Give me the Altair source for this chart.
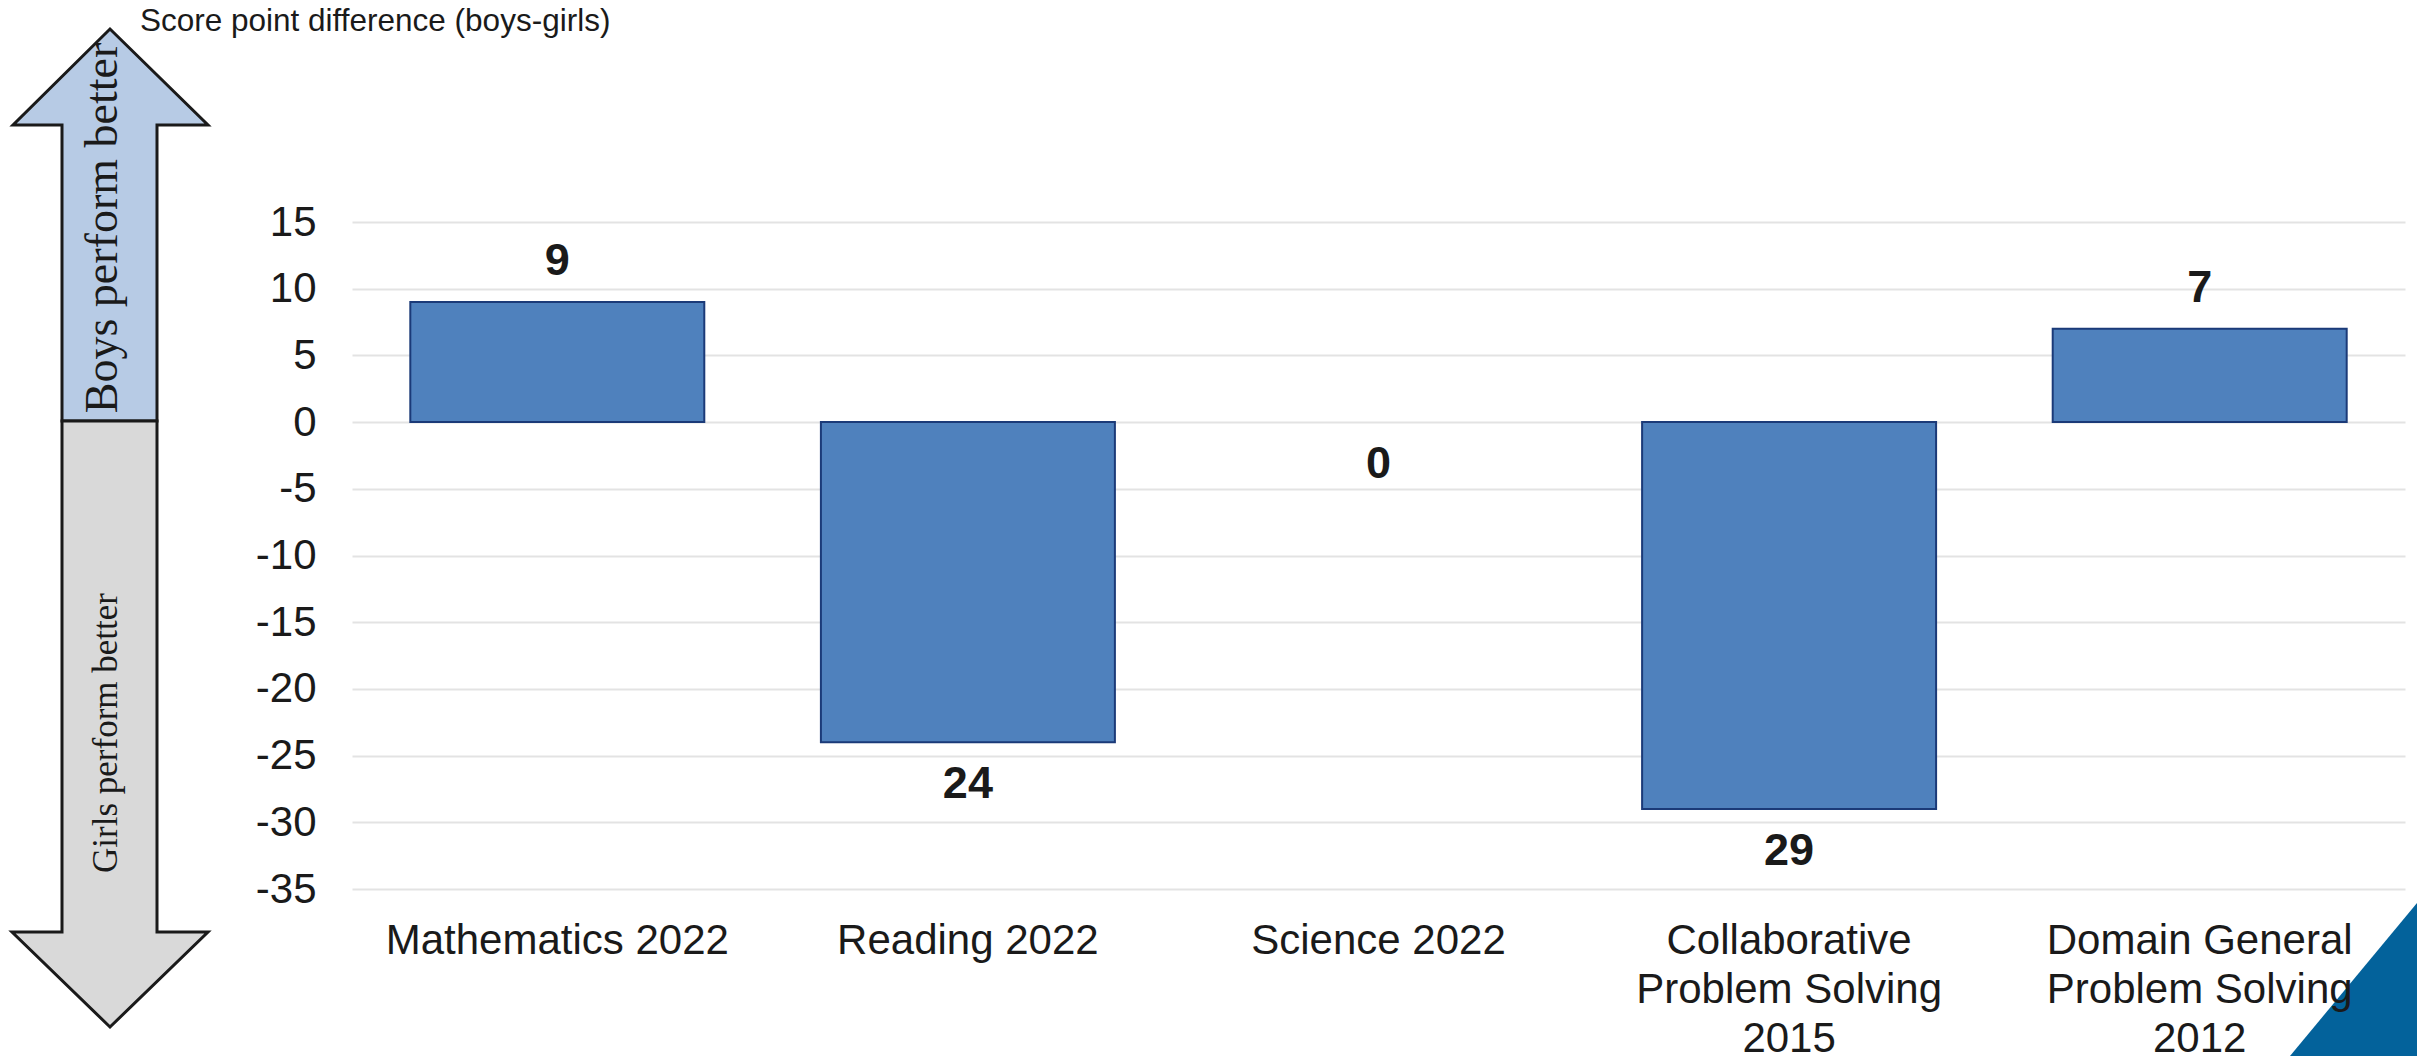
import altair as alt
import pandas as pd

# Gender gap in scores, by assessment (boys minus girls)
subjects = [
    "Mathematics 2022",
    "Reading 2022",
    "Science 2022",
    "Collaborative Problem Solving 2015",
    "Domain General Problem Solving 2012",
]
gap = [9, -24, 0, -29, 7]

y_ticks = [15, 10, 5, 0, -5, -10, -15, -20, -25, -30, -35]

axis_title = "Score point difference (boys-girls)"
boys_text = "Boys perform better"
girls_text = "Girls perform better"

df = pd.DataFrame({"subject": subjects, "gap": gap})
df["magnitude"] = df["gap"].abs()
single = pd.DataFrame({"k": [0]})

W, H = 2053, 667
SANS = "Liberation Sans"
SERIF = "Liberation Serif"
INK = "#1a1a1a"

x = alt.X(
    "subject:N",
    sort=subjects,
    title=None,
    scale=alt.Scale(paddingInner=0.284, paddingOuter=0.142),
    axis=alt.Axis(
        labelAngle=0,
        labelFont=SANS,
        labelFontSize=42,
        labelColor=INK,
        labelPadding=31,
        labelLineHeight=49,
        labelLimit=0,
        ticks=False,
        domain=False,
        grid=False,
        zindex=1,
        labelExpr="split(replace(datum.label, ' Problem Solving ', '|Problem Solving|'), '|')",
    ),
)
y = alt.Y(
    "gap:Q",
    title=None,
    scale=alt.Scale(domain=[-35, 15], nice=False, zero=False),
    axis=alt.Axis(
        values=y_ticks,
        labelExpr="'' + datum.value",
        labelFont=SANS,
        labelFontSize=42,
        labelColor=INK,
        labelPadding=36,
        ticks=False,
        domain=False,
        grid=True,
        gridColor="#e3e3e3",
        gridWidth=2,
    ),
)

base = alt.Chart(df)

bars = (
    base.transform_filter("datum.gap != 0")
    .mark_bar(color="#4f81bd", stroke="#1b3a78", strokeWidth=2)
    .encode(x=x, y=y)
)

label_style = dict(font=SANS, fontSize=45, fontWeight="bold", color=INK, baseline="middle")
labels_up = (
    base.transform_filter("datum.gap > 0")
    .mark_text(dy=-41, **label_style)
    .encode(x=x, y=y, text="magnitude:Q")
)
labels_down = (
    base.transform_filter("datum.gap <= 0")
    .mark_text(dy=42, **label_style)
    .encode(x=x, y=y, text="magnitude:Q")
)

# Direction arrows on the left, drawn as custom symbol paths (pixel units at size=4)
up_arrow_path = "M -48 0 L -48 -296 L -97 -296 L 0 -392 L 98 -296 L 47 -296 L 47 0 Z"
down_arrow_path = "M -48 0 L 47 0 L 47 511 L 98 511 L 0 606 L -98 511 L -48 511 Z"

arrow_style = dict(size=4, filled=True, opacity=1, stroke=INK, strokeWidth=3)
arrow_up = alt.Chart(single).mark_point(
    shape=up_arrow_path, fill="#b7cbe5", **arrow_style
).encode(x=alt.value(-242), y=alt.value(199))
arrow_down = alt.Chart(single).mark_point(
    shape=down_arrow_path, fill="#d9d9d9", **arrow_style
).encode(x=alt.value(-242), y=alt.value(199))

boys_label = alt.Chart(single).mark_text(
    font=SERIF, fontSize=46, color=INK, angle=270, align="center", baseline="middle"
).encode(x=alt.value(-249), y=alt.value(6), text=alt.value(boys_text))

girls_label = alt.Chart(single).mark_text(
    font=SERIF, fontSize=35, color=INK, angle=270, align="center", baseline="middle"
).encode(x=alt.value(-246), y=alt.value(511), text=alt.value(girls_text))

title = alt.Chart(single).mark_text(
    font=SANS, fontSize=31.5, color=INK, align="left", baseline="alphabetic"
).encode(x=alt.value(-212), y=alt.value(-191), text=alt.value(axis_title))

# Corner accent
corner = alt.Chart(single).mark_point(
    shape="M 0 0 L 0 -153 L -127 0 Z", size=4, filled=True, opacity=1, fill="#03629b", strokeWidth=0
).encode(x=alt.value(2065), y=alt.value(834))

chart = (
    alt.layer(bars, labels_up, labels_down, arrow_up, arrow_down, boys_label, girls_label, title, corner)
    .properties(
        width=W,
        height=H,
        padding={"left": 352, "top": 222, "right": 12, "bottom": 167},
        autosize=alt.AutoSizeParams(type="none"),
        background="white",
    )
    .configure_view(stroke=None)
)

chart.save("out.html", embed_options={"renderer": "svg", "actions": False})
